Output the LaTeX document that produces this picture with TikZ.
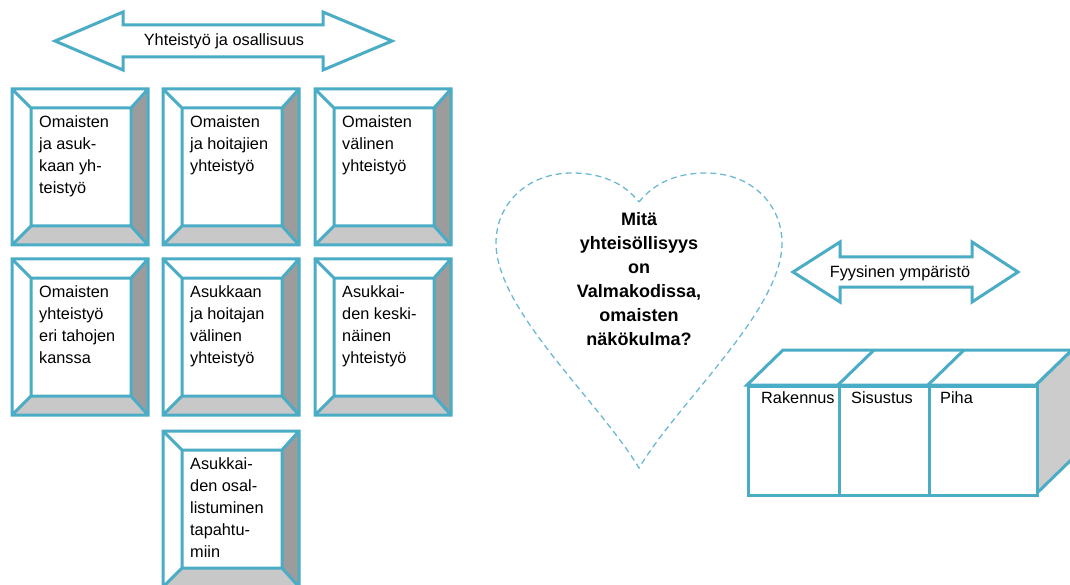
\documentclass[tikz,border=0pt]{standalone}
\usepackage{fontspec}
\setmainfont{Liberation Sans}
\definecolor{tealline}{HTML}{4BACC6}
\definecolor{heartline}{HTML}{6DB9D5}
\definecolor{rgray}{HTML}{9C9C9C}
\definecolor{bgray}{HTML}{C8C8C8}
\definecolor{cgray}{HTML}{CCCCCC}
\newcommand{\bevelbox}[4]{%
\begin{scope}[shift={(#2,#3)}]
\fill[white] (0,0) rectangle (136,156);
\fill[rgray] (136,0)--(136,156)--(119,137)--(119,19)--cycle;
\fill[bgray] (0,156)--(136,156)--(119,137)--(19,137)--cycle;
\draw[tline] (0,0) rectangle (136,156) (19,19) rectangle (119,137)
  (0,0)--(19,19) (136,0)--(119,19) (0,156)--(19,137) (136,156)--(119,137);
\node[btext] (#1) at (27,26.5) {#4};
\end{scope}}
\begin{document}
\begin{tikzpicture}[x=1pt,y=-1pt,
  tline/.style={draw=tealline, line width=3pt},
  btext/.style={anchor=north west, inner sep=0pt, align=left, font=\fontsize{16.3}{22}\selectfont},
  ltext/.style={anchor=base, inner sep=0pt, font=\fontsize{16.3}{20}\selectfont},
  ctext/.style={anchor=base west, inner sep=0pt, font=\fontsize{16.3}{20}\selectfont},
  htext/.style={anchor=north, inner sep=0pt, align=center, font=\fontsize{18}{24}\selectfont\bfseries},
  cubeface/.style={tline, fill=white, anchor=north west, inner sep=0pt, minimum height=109pt},
  heart/.style={draw=heartline, line width=1.3pt, dash pattern=on 6pt off 4pt}]
\useasboundingbox (0,0) rectangle (1070,585);
\fill[white] (0,0) rectangle (1070,585);

% top double arrow
\draw[tline, fill=white] (55,41)--(123,12)--(123,25)--(323,25)--(323,12)--(392,41)--(323,70)--(323,57)--(123,57)--(123,70)--cycle;
\node[ltext] (yht) at (224,46) {Yhteistyö ja osallisuus};

% bevel boxes
\bevelbox{b1}{12}{89}{Omaisten\\ja asuk-\\kaan yh-\\teistyö}
\bevelbox{b2}{163}{89}{Omaisten\\ja hoitajien\\yhteistyö}
\bevelbox{b3}{315}{89}{Omaisten\\välinen\\yhteistyö}
\bevelbox{b4}{12}{259}{Omaisten\\yhteistyö\\eri tahojen\\kanssa}
\bevelbox{b5}{163}{259}{Asukkaan\\ja hoitajan\\välinen\\yhteistyö}
\bevelbox{b6}{315}{259}{Asukkai-\\den keski-\\näinen\\yhteistyö}
\bevelbox{b7}{163}{431}{Asukkai-\\den osal-\\listuminen\\tapahtu-\\miin}

% heart
\draw[heart] (639,202) .. controls (655,182) and (678,173) .. (706,173)
  .. controls (752,173) and (782,205) .. (782,243)
  .. controls (782,310) and (680,400) .. (639,468)
  .. controls (598,400) and (496,310) .. (496,243)
  .. controls (496,205) and (526,173) .. (572,173)
  .. controls (600,173) and (623,182) .. (639,202);
\node[htext] (q) at (639,212) {Mitä\\yhteisöllisyys\\on\\Valmakodissa,\\omaisten\\näkökulma?};

% second double arrow
\draw[tline, fill=white] (793,272)--(840,242)--(840,257)--(972,257)--(972,242)--(1018,272)--(972,302)--(972,287)--(840,287)--(840,302)--cycle;
\node[ltext] (fyys) at (900,277) {Fyysinen ympäristö};

% cube
\draw[tline, fill=white] (747,385)--(783,350)--(1072,350)--(1036,385)--cycle;
\draw[tline, fill=cgray] (1036,385)--(1072,350)--(1072,459)--(1036,494)--cycle;
\draw[tline] (838,385)--(874,350) (928,385)--(964,350);
\node[cubeface, minimum width=91pt] (f1) at (747,385) {};
\node[cubeface, minimum width=90pt] (f2) at (838,385) {};
\node[cubeface, minimum width=108pt] (f3) at (928,385) {};
\node[ctext] (rak) at (761,403) {Rakennus};
\node[ctext] (sis) at (851,403) {Sisustus};
\node[ctext] (piha) at (940,403) {Piha};
\end{tikzpicture}
\end{document}
